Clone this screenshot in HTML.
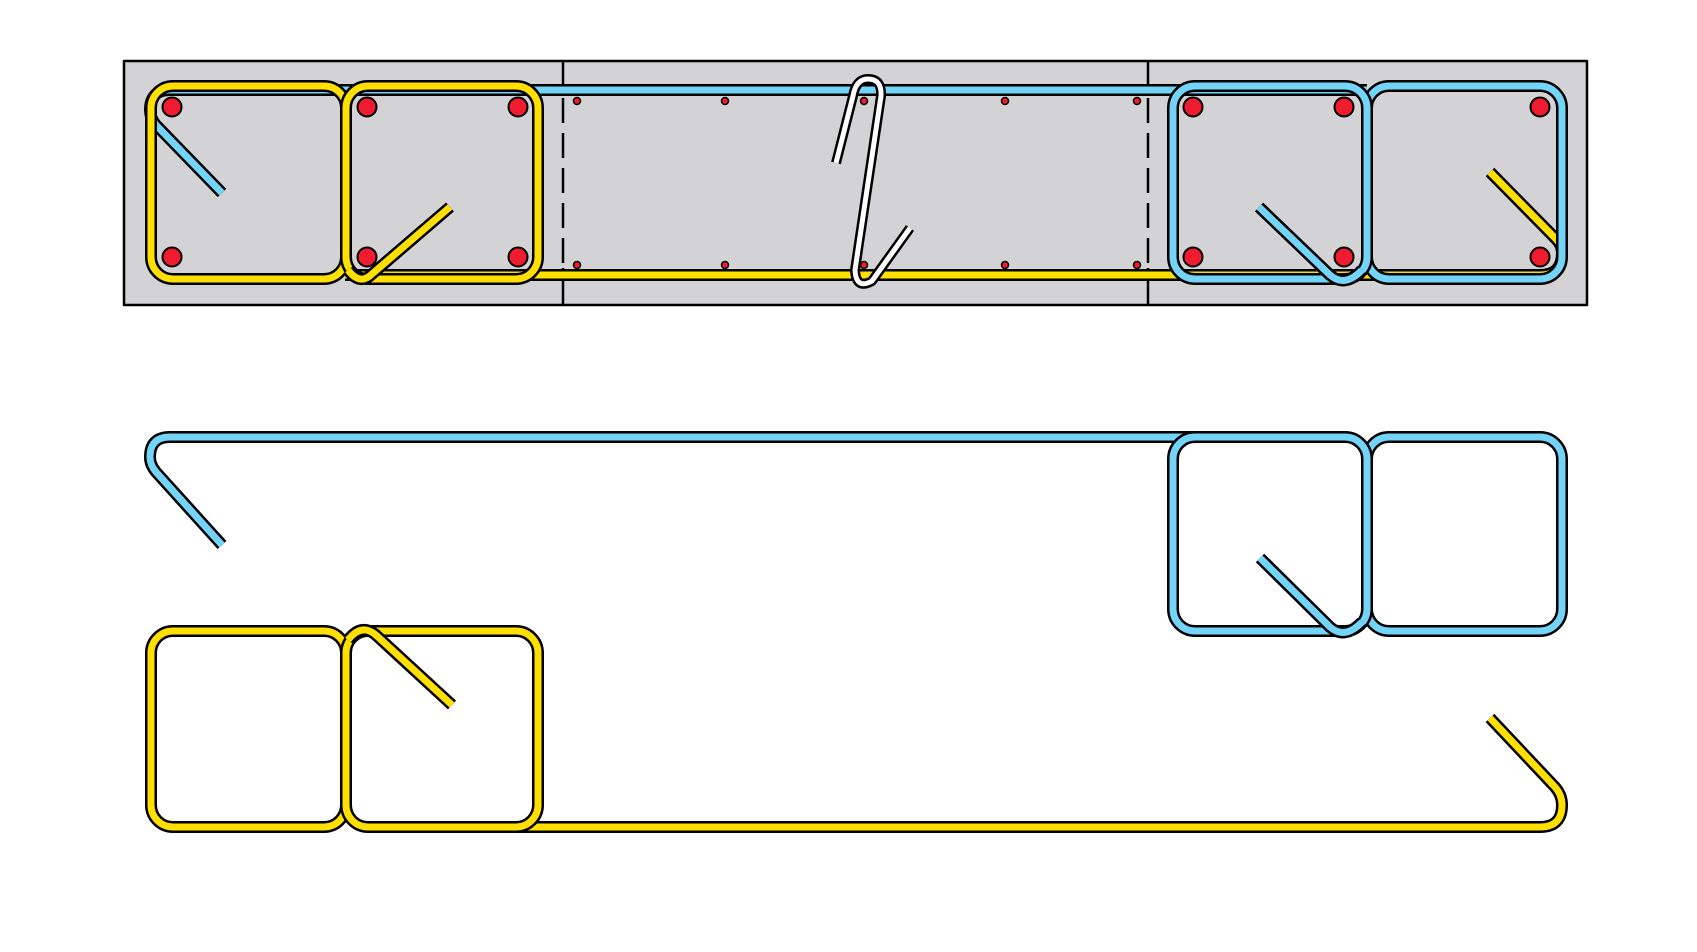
<!DOCTYPE html>
<html><head><meta charset="utf-8"><style>html,body{margin:0;padding:0;background:#fff}svg{display:block}</style></head>
<body>
<svg width="1697" height="952" viewBox="0 0 1697 952" xmlns="http://www.w3.org/2000/svg" fill="none" stroke-linejoin="round">
<rect x="124" y="61" width="1463" height="244" fill="#d3d3d5" stroke="#000" stroke-width="2.5"/>
<g stroke="#000" stroke-width="2.5">
<line x1="563" y1="61" x2="563" y2="96"/><line x1="563" y1="268" x2="563" y2="305"/>
<line x1="1148" y1="61" x2="1148" y2="96"/><line x1="1148" y1="268" x2="1148" y2="305"/>
<line x1="563" y1="98" x2="563" y2="268" stroke-dasharray="25 10"/>
<line x1="1148" y1="98" x2="1148" y2="268" stroke-dasharray="25 10"/>
</g>
<g fill="#ee1c2e" stroke="#000" stroke-width="1.5">
<circle cx="577" cy="101" r="3.5"/><circle cx="725" cy="101" r="3.5"/><circle cx="864" cy="101" r="3.5"/><circle cx="1005" cy="101" r="3.5"/><circle cx="1137" cy="101" r="3.5"/>
<circle cx="577" cy="265" r="3.5"/><circle cx="725" cy="265" r="3.5"/><circle cx="864" cy="265" r="3.5"/><circle cx="1005" cy="265" r="3.5"/><circle cx="1137" cy="265" r="3.5"/>
</g>
<g fill="#ee1c2e" stroke="#000" stroke-width="2">
<circle cx="172" cy="107" r="9.5"/><circle cx="172" cy="257" r="9.5"/>
<circle cx="367" cy="107" r="9.5"/><circle cx="367" cy="257" r="9.5"/>
<circle cx="518" cy="107" r="9.5"/><circle cx="518" cy="257" r="9.5"/>
<circle cx="1193" cy="107" r="9.5"/><circle cx="1193" cy="257" r="9.5"/>
<circle cx="1344" cy="107" r="9.5"/><circle cx="1344" cy="257" r="9.5"/>
<circle cx="1540" cy="107" r="9.5"/><circle cx="1540" cy="257" r="9.5"/>
</g>

<path d="M1367 90 L170 90 Q150 90 150 110 Q150 118 156 125 L222 193" stroke="#000" stroke-width="12"/>
<path d="M1367 90 L170 90 Q150 90 150 110 Q150 118 156 125 L222 193" stroke="#74d4f8" stroke-width="7"/>
<path d="M345 275 L1540 275 Q1562 275 1562 253 Q1562 245 1556 239 L1490 172" stroke="#000" stroke-width="12"/>
<path d="M345 275 L1540 275 Q1562 275 1562 253 Q1562 245 1556 239 L1490 172" stroke="#ffdf00" stroke-width="7"/>

<rect x="151" y="86" width="195" height="193" rx="22" stroke="#000" stroke-width="12"/>
<rect x="151" y="86" width="195" height="193" rx="22" stroke="#ffdf00" stroke-width="7"/>
<rect x="346" y="86" width="192" height="193" rx="22" stroke="#000" stroke-width="12"/>
<rect x="346" y="86" width="192" height="193" rx="22" stroke="#ffdf00" stroke-width="7"/>
<path d="M450 207 L372 274 Q360 286 348 270" stroke="#000" stroke-width="12"/>
<path d="M450 207 L372 274 Q360 286 348 270" stroke="#ffdf00" stroke-width="7"/>

<rect x="1367" y="86" width="195" height="193" rx="22" stroke="#000" stroke-width="12"/>
<rect x="1367" y="86" width="195" height="193" rx="22" stroke="#74d4f8" stroke-width="7"/>
<rect x="1173" y="86" width="194" height="193" rx="22" stroke="#000" stroke-width="12"/>
<rect x="1173" y="86" width="194" height="193" rx="22" stroke="#74d4f8" stroke-width="7"/>
<path d="M1259 207 L1330 275 Q1345 288 1362 270" stroke="#000" stroke-width="12"/>
<path d="M1259 207 L1330 275 Q1345 288 1362 270" stroke="#74d4f8" stroke-width="7"/>

<path d="M836 163 L853 96 Q856 79 868 79 Q882 79 881 96 L855 270 Q856 290 872 281 L910 228" stroke="#000" stroke-width="10"/>
<path d="M836 163 L853 96 Q856 79 868 79 Q882 79 881 96 L855 270 Q856 290 872 281 L910 228" stroke="#fff" stroke-width="5"/>

<path d="M1250 437 L170 437 Q150 437 150 457 Q150 465 156 472 L222 545" stroke="#000" stroke-width="12"/>
<path d="M1250 437 L170 437 Q150 437 150 457 Q150 465 156 472 L222 545" stroke="#74d4f8" stroke-width="7"/>
<rect x="1367" y="437" width="195" height="194" rx="22" stroke="#000" stroke-width="12"/>
<rect x="1367" y="437" width="195" height="194" rx="22" stroke="#74d4f8" stroke-width="7"/>
<rect x="1173" y="437" width="194" height="194" rx="22" stroke="#000" stroke-width="12"/>
<rect x="1173" y="437" width="194" height="194" rx="22" stroke="#74d4f8" stroke-width="7"/>
<path d="M1260 558 L1330 627 Q1345 640 1362 622" stroke="#000" stroke-width="12"/>
<path d="M1260 558 L1330 627 Q1345 640 1362 622" stroke="#74d4f8" stroke-width="7"/>

<path d="M400 827 L1540 827 Q1562 827 1562 805 Q1562 795 1555 787 L1490 718" stroke="#000" stroke-width="12"/>
<path d="M400 827 L1540 827 Q1562 827 1562 805 Q1562 795 1555 787 L1490 718" stroke="#ffdf00" stroke-width="7"/>
<rect x="151" y="631" width="195" height="196" rx="22" stroke="#000" stroke-width="12"/>
<rect x="151" y="631" width="195" height="196" rx="22" stroke="#ffdf00" stroke-width="7"/>
<rect x="346" y="631" width="192" height="196" rx="22" stroke="#000" stroke-width="12"/>
<rect x="346" y="631" width="192" height="196" rx="22" stroke="#ffdf00" stroke-width="7"/>
<path d="M452 705 L377 636 Q362 622 348 640" stroke="#000" stroke-width="12"/>
<path d="M452 705 L377 636 Q362 622 348 640" stroke="#ffdf00" stroke-width="7"/>
</svg>
</body></html>
